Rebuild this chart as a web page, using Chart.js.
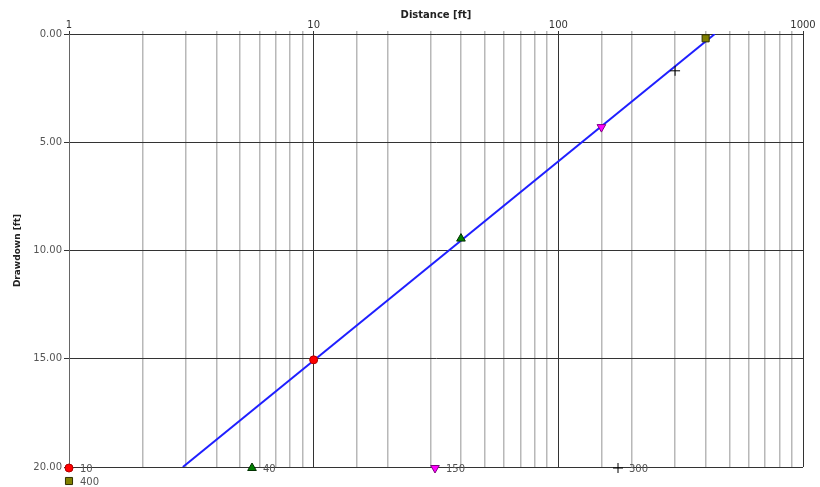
<!DOCTYPE html>
<html>
<head>
<meta charset="utf-8">
<script src="https://cdn.jsdelivr.net/npm/chart.js@4"></script>
<style>
  html, body { margin: 0; padding: 0; background: #fff; }
  #wrap { width: 820px; height: 487px; }
</style>
</head>
<body>
<div id="wrap"><canvas id="chart" width="820" height="487"></canvas></div>
<script>
// observation wells: distance and drawdown
const wellNames = ["10", "40", "150", "300", "400"];
const distances = [10, 40, 150, 300, 400];
const drawdowns = [15.05, 9.45, 4.3, 1.7, 0.2];

// fitted straight line (semi-log)
const lineDistance = [2.92, 436];
const lineDrawdown = [20, 0];

const markerStyles = [
  { style: "circle", color: "#ff0000", border: "#b00000", rotation: 0, radius: 4 },
  { style: "triangle", color: "#008000", border: "#003000", rotation: 0, radius: 5 },
  { style: "triangle", color: "#ff00ff", border: "#800080", rotation: 180, radius: 5 },
  { style: "cross", color: "#000000", border: "#000000", rotation: 0, radius: 5 },
  { style: "rect", color: "#808000", border: "#303000", rotation: 0, radius: 5 },
];

const ctx = document.getElementById("chart");

const datasets = wellNames.map((name, i) => ({
  label: name,
  data: [{ x: distances[i], y: drawdowns[i] }],
  showLine: false,
  pointStyle: markerStyles[i].style,
  rotation: markerStyles[i].rotation,
  pointRadius: markerStyles[i].radius,
  backgroundColor: markerStyles[i].color,
  borderColor: markerStyles[i].border,
  borderWidth: 1,
  order: 0,
}));

datasets.push({
  label: "fit",
  data: lineDistance.map((d, i) => ({ x: d, y: lineDrawdown[i] })),
  showLine: true,
  borderColor: "#1f1fff",
  borderWidth: 2,
  pointRadius: 0,
  order: 1,
});

const legendSpots = [[69, 468], [252, 468], [435, 468], [618, 468], [69, 481]];

const wellLegend = {
  id: "wellLegend",
  afterDraw(chart) {
    const c = chart.ctx;
    c.save();
    c.font = "10px 'DejaVu Sans'";
    c.textBaseline = "middle";
    wellNames.forEach((name, i) => {
      const [lx, ly] = legendSpots[i];
      const m = markerStyles[i];
      c.fillStyle = m.color;
      c.strokeStyle = m.border;
      c.lineWidth = 1;
      Chart.helpers.drawPoint(c, { pointStyle: m.style, radius: m.radius, rotation: m.rotation, borderWidth: 1 }, lx, ly);
      c.fillStyle = "#555";
      c.fillText(name, lx + 11, ly + 1);
    });
    c.restore();
  },
};

const isDecade = (v) => Math.abs(Math.log10(v) - Math.round(Math.log10(v))) < 1e-6;

new Chart(ctx, {
  type: "scatter",
  data: { datasets: datasets },
  options: {
    responsive: false,
    animation: false,
    layout: { padding: { left: 0, right: 17, top: 0, bottom: 20 } },
    scales: {
      x: {
        type: "logarithmic",
        position: "top",
        min: 1,
        max: 1000,
        afterFit(scale) { scale.height = 34; },
        title: {
          display: true,
          text: "Distance [ft]",
          color: "#222",
          font: { family: "DejaVu Sans", size: 10, weight: "bold" },
          padding: { top: 9, bottom: 0 },
        },
        ticks: {
          autoSkip: false,
          maxRotation: 0,
          color: "#333",
          padding: 0,
          font: { family: "DejaVu Sans", size: 10 },
          callback: (v) => (isDecade(v) ? String(v) : ""),
        },
        grid: {
          color: (c) => (c.tick && isDecade(c.tick.value) ? "#333" : "#b8b8b8"),
          lineWidth: (c) => (c.tick && isDecade(c.tick.value) ? 1 : 1.5),
          tickLength: 3,
        },
        border: { color: "#333" },
      },
      y: {
        reverse: true,
        min: 0,
        max: 20,
        afterFit(scale) { scale.width = 69; },
        title: {
          display: true,
          text: "Drawdown [ft]",
          color: "#222",
          font: { family: "DejaVu Sans", size: 9, weight: "bold" },
          padding: { top: 12, bottom: 0 },
        },
        ticks: {
          stepSize: 5,
          color: "#555",
          padding: 2,
          font: { family: "DejaVu Sans", size: 10 },
          callback: (v) => v.toFixed(2),
        },
        grid: { color: "#333", lineWidth: 1, tickLength: 5 },
        border: { color: "#666" },
      },
    },
    plugins: {
      legend: { display: false },
      tooltip: { enabled: false },
    },
  },
  plugins: [wellLegend],
});
</script>
</body>
</html>
